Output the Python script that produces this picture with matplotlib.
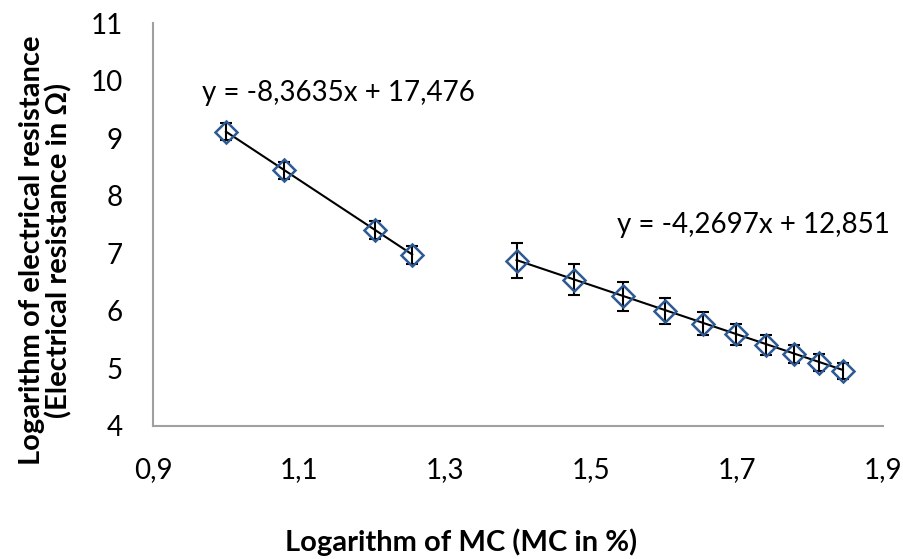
import matplotlib
matplotlib.use("Agg")
import matplotlib.pyplot as plt
from matplotlib.ticker import FuncFormatter

plt.rcParams["font.family"] = ["Lato", "DejaVu Sans"]

# log10 of moisture content, two ranges
x_low = [1.000, 1.079, 1.204, 1.255]
y_low = [9.11, 8.44, 7.40, 6.97]
err_low = [0.15, 0.15, 0.16, 0.155]

x_high = [1.398, 1.477, 1.544, 1.602, 1.653, 1.699, 1.740, 1.778, 1.813, 1.845]
y_high = [6.87, 6.54, 6.25, 6.00, 5.78, 5.59, 5.41, 5.25, 5.10, 4.96]
err_high = [0.30, 0.27, 0.245, 0.22, 0.20, 0.185, 0.17, 0.16, 0.15, 0.14]

# linear trendlines (slope, intercept)
fit_low = (-8.3635, 17.476)
fit_high = (-4.2697, 12.851)

x_ticks = [0.9, 1.1, 1.3, 1.5, 1.7, 1.9]
y_ticks = [4, 5, 6, 7, 8, 9, 10, 11]

W, H = 904, 559
fig = plt.figure(figsize=(W / 100, H / 100), dpi=100)
ax = fig.add_axes([153 / W, 1 - 426 / H, 730 / W, 403 / H])

marker_col = "#2E5A94"
for xs, ys, es, (m, b) in [(x_low, y_low, err_low, fit_low),
                           (x_high, y_high, err_high, fit_high)]:
    ax.plot([xs[0], xs[-1]], [m * xs[0] + b, m * xs[-1] + b],
            color="black", lw=1.5, zorder=2)
    ax.errorbar(xs, ys, yerr=es, fmt="none", ecolor="black",
                elinewidth=1.5, capsize=4.5, capthick=1.5, zorder=3)
    ax.plot(xs, ys, "D", ms=11, mfc="none", mec=marker_col, mew=1.8, zorder=4)

def eq_label(m, b):
    return f"y = {m:.4f}x + {b:.3f}".replace(".", ",")

fig.text(202 / W, 1 - 93 / H, eq_label(*fit_low), fontsize=20, ha="left", va="center")
fig.text(617 / W, 1 - 225 / H, eq_label(*fit_high), fontsize=20, ha="left", va="center")

ax.set_xlim(0.9, 1.9)
ax.set_ylim(4, 11)
ax.set_xticks(x_ticks)
ax.set_yticks(y_ticks)
ax.xaxis.set_major_formatter(FuncFormatter(lambda v, p: f"{v:.1f}".replace(".", ",")))
ax.tick_params(length=0, labelsize=20)
ax.tick_params(axis="x", pad=22)
ax.tick_params(axis="y", pad=22)

for s in ["top", "right"]:
    ax.spines[s].set_visible(False)
for s in ["left", "bottom"]:
    ax.spines[s].set_color("#A0A0A0")
    ax.spines[s].set_linewidth(1.5)

# axis titles
fig.text(461 / W, 1 - 542 / H, "Logarithm of MC (MC in %)",
         fontsize=21, fontweight="bold", ha="center", va="center")
fig.text(46 / W, 1 - 250 / H,
         "Logarithm of electrical resistance\n(Electrical resistance in Ω)",
         fontsize=21, fontweight="bold", ha="center", va="center",
         rotation=90, linespacing=1.0, multialignment="center")

fig.savefig("out.png", dpi=100)
